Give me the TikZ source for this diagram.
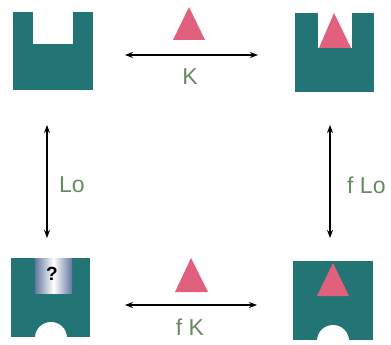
\documentclass[tikz,border=0pt]{standalone}
\usepackage{fontspec}
\setmainfont{Liberation Sans}
\usetikzlibrary{arrows.meta}
\definecolor{teal1}{RGB}{35,116,116}
\definecolor{pink1}{RGB}{224,96,126}
\definecolor{lab}{RGB}{104,138,98}
\definecolor{qblue}{RGB}{100,120,160}
\tikzset{
  block/.style={fill=teal1},
  hole/.style={fill=white},
  tri/.style={fill=pink1},
  link/.style={line width=1.9pt, {Stealth[length=8pt,width=6pt]}-{Stealth[length=8pt,width=6pt]}},
  lbl/.style={text=lab, font=\fontsize{23}{26}\selectfont, inner sep=0pt},
}
\begin{document}
\begin{tikzpicture}[x=1pt,y=-1pt]
\useasboundingbox (0,0) rectangle (391,345);
% top-left block (empty pocket)
\fill[block] (13,12) rectangle (93,90);
\fill[hole] (33,11) rectangle (73,44);
% top-right block (pocket with triangle)
\fill[block] (295,13) rectangle (374,92);
\fill[hole] (318,12) rectangle (352,48);
\fill[tri] (334,13) -- (351,48) -- (319,48) -- cycle;
% bottom-left block (unknown pocket, bottom cutout)
\fill[block] (11,258) rectangle (90,337);
\shade[left color=qblue, right color=qblue, middle color=white] (35,258) rectangle (72,293);
\fill[hole] (51,338) circle[radius=16];
\node[inner sep=0pt, font=\fontsize{19}{22}\selectfont\bfseries] (q) at (52,274) {?};
% bottom-right block
\fill[block] (293,261) rectangle (373,340);
\fill[tri] (333,263) -- (349,296) -- (317,296) -- cycle;
\fill[hole] (333,341) circle[radius=16];
% free ligand triangles
\fill[tri] (189,7) -- (205,40) -- (173,40) -- cycle;
\fill[tri] (191,258) -- (208,292) -- (175,292) -- cycle;
% arrow endpoints
\coordinate (tl) at (125,55);
\coordinate (tr) at (258,55);
\coordinate (bl) at (125,305);
\coordinate (br) at (257,305);
\coordinate (lt) at (47,125);
\coordinate (lb) at (47,238);
\coordinate (rt) at (330,125);
\coordinate (rb) at (330,238);
\draw[link] (tl) -- (tr);
\draw[link] (bl) -- (br);
\draw[link] (lt) -- (lb);
\draw[link] (rt) -- (rb);
% labels
\node[lbl] (K) at (190,77) {K};
\node[lbl] (fK) at (190,327) {f K};
\node[lbl, anchor=west] (L) at (59,185) {Lo};
\node[lbl, anchor=west] (fL) at (347,185) {f Lo};
\end{tikzpicture}
\end{document}
